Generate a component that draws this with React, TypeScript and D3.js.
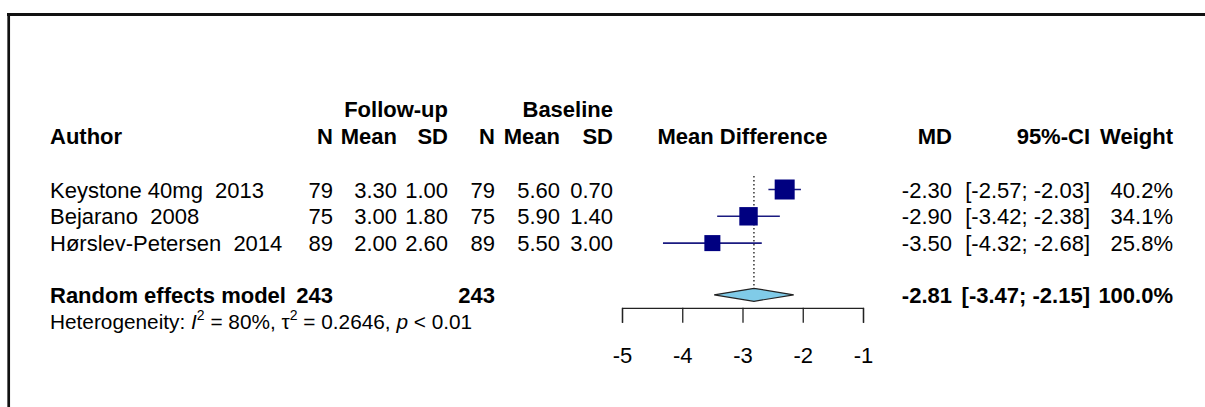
import * as d3 from 'd3';

// study rows
const authors = ['Keystone 40mg  2013', 'Bejarano  2008', 'Hørslev-Petersen  2014'];
const fuN = [79, 75, 89];
const fuMean = [3.3, 3.0, 2.0];
const fuSD = [1.0, 1.8, 2.6];
const blN = [79, 75, 89];
const blMean = [5.6, 5.9, 5.5];
const blSD = [0.7, 1.4, 3.0];
const md = [-2.3, -2.9, -3.5];
const ciLow = [-2.57, -3.42, -4.32];
const ciHigh = [-2.03, -2.38, -2.68];
const weights = [40.2, 34.1, 25.8];

// pooled random effects model
const pooled = { md: -2.81, lo: -3.47, hi: -2.15, nFu: 243, nBl: 243 };
const het = { i2: '80%', tau2: '0.2646', p: '< 0.01' };
const axisTicks = [-5, -4, -3, -2, -1];

const W = 1205;
const H = 407;
const FONT = '"Liberation Sans", Arial, sans-serif';

// plain hyphen for negatives, like R output
const loc = d3.formatLocale({ decimal: '.', thousands: ',', grouping: [3], currency: ['', ''], minus: '-' });
// keep the double spaces in study labels
const keepSpaces = (s: string) => s.replace(/  /g, ' \u00a0');

export default function App() {
  const x = d3.scaleLinear().domain([-5, -1]).range([622, 863]);
  // row index -> vertical centre
  const row = d3.scaleLinear().domain([0, 1]).range([189.5, 216.3]);
  const size = d3.scaleSqrt().domain([0, d3.max(weights) as number]).range([0, 20]);
  const base = (i: number) => row(i) + 8;
  const f2 = loc.format('.2f');
  const f1 = (v: number) => loc.format('.1f')(v) + '%';
  const sumRow = 3.93;

  const axisRef = (g: SVGGElement | null) => {
    if (!g) return;
    const sel = d3.select(g);
    sel.selectAll('*').remove();
    sel.call(
      d3.axisBottom(x).tickValues(axisTicks).tickSize(15).tickPadding(25).tickFormat(loc.format('d'))
    );
    sel.selectAll('path, line').attr('stroke', '#222').attr('stroke-width', 1.3);
    sel.selectAll('text').attr('font-size', 22).attr('font-family', FONT).attr('fill', '#000');
  };

  const bold = { fontWeight: 700 } as const;
  const cols = { fuN: 333, fuMean: 397, fuSD: 448, blN: 495, blMean: 560, blSD: 613, md: 952, ci: 1090, w: 1173 };

  return (
    <svg width={W} height={H} style={{ position: 'absolute', left: 0, top: 0, background: '#fff' }}
      fontFamily={FONT} fontSize={22}>
      <rect width={W} height={H} fill="#fff" />
      <line x1={7} x2={W} y1={14.5} y2={14.5} stroke="#111" strokeWidth={3} />
      <line x1={8.7} x2={8.7} y1={13} y2={H} stroke="#111" strokeWidth={2.7} />

      {/* headers */}
      <g style={bold}>
        <text x={cols.fuSD} y={base(-3)} textAnchor="end">Follow-up</text>
        <text x={cols.blSD} y={base(-3)} textAnchor="end">Baseline</text>
        <text x={50} y={base(-2)}>Author</text>
        <text x={cols.fuN} y={base(-2)} textAnchor="end">N</text>
        <text x={cols.fuMean} y={base(-2)} textAnchor="end">Mean</text>
        <text x={cols.fuSD} y={base(-2)} textAnchor="end">SD</text>
        <text x={cols.blN} y={base(-2)} textAnchor="end">N</text>
        <text x={cols.blMean} y={base(-2)} textAnchor="end">Mean</text>
        <text x={cols.blSD} y={base(-2)} textAnchor="end">SD</text>
        <text x={x(-3)} y={base(-2)} textAnchor="middle">Mean Difference</text>
        <text x={cols.md} y={base(-2)} textAnchor="end">MD</text>
        <text x={cols.ci} y={base(-2)} textAnchor="end">95%-CI</text>
        <text x={cols.w} y={base(-2)} textAnchor="end">Weight</text>
      </g>

      {/* study rows */}
      {authors.map((a, i) => (
        <g key={a}>
          <text x={50} y={base(i)}>{keepSpaces(a)}</text>
          <text x={cols.fuN} y={base(i)} textAnchor="end">{fuN[i]}</text>
          <text x={cols.fuMean} y={base(i)} textAnchor="end">{f2(fuMean[i])}</text>
          <text x={cols.fuSD} y={base(i)} textAnchor="end">{f2(fuSD[i])}</text>
          <text x={cols.blN} y={base(i)} textAnchor="end">{blN[i]}</text>
          <text x={cols.blMean} y={base(i)} textAnchor="end">{f2(blMean[i])}</text>
          <text x={cols.blSD} y={base(i)} textAnchor="end">{f2(blSD[i])}</text>
          <text x={cols.md} y={base(i)} textAnchor="end">{f2(md[i])}</text>
          <text x={cols.ci} y={base(i)} textAnchor="end">{`[${f2(ciLow[i])}; ${f2(ciHigh[i])}]`}</text>
          <text x={cols.w} y={base(i)} textAnchor="end">{f1(weights[i])}</text>
        </g>
      ))}

      {/* reference line at pooled estimate */}
      <line x1={x(pooled.md)} x2={x(pooled.md)} y1={row(-0.5)} y2={row(sumRow)}
        stroke="#000" strokeWidth={1.2} strokeDasharray="1.5,2.5" />

      {/* CIs and squares */}
      {authors.map((a, i) => {
        const s = size(weights[i]);
        return (
          <g key={'m' + a}>
            <line x1={x(ciLow[i])} x2={x(ciHigh[i])} y1={row(i)} y2={row(i)} stroke="#1a1a80" strokeWidth={1.6} />
            <rect x={x(md[i]) - s / 2} y={row(i) - s / 2} width={s} height={s} fill="#000080" />
          </g>
        );
      })}

      {/* pooled diamond */}
      <polygon
        points={[
          [x(pooled.lo), row(sumRow)],
          [x(pooled.md), row(sumRow) - 6.5],
          [x(pooled.hi), row(sumRow)],
          [x(pooled.md), row(sumRow) + 6.5],
        ].map((p) => p.join(',')).join(' ')}
        fill="#80cbe8" stroke="#222" strokeWidth={1.2}
      />

      <g style={bold}>
        <text x={50} y={base(sumRow)}>Random effects model</text>
        <text x={cols.fuN} y={base(sumRow)} textAnchor="end">{pooled.nFu}</text>
        <text x={cols.blN} y={base(sumRow)} textAnchor="end">{pooled.nBl}</text>
        <text x={cols.md} y={base(sumRow)} textAnchor="end">{f2(pooled.md)}</text>
        <text x={cols.ci} y={base(sumRow)} textAnchor="end">{`[${f2(pooled.lo)}; ${f2(pooled.hi)}]`}</text>
        <text x={cols.w} y={base(sumRow)} textAnchor="end">100.0%</text>
      </g>

      <text x={50} y={base(sumRow) + 26.5} fontSize={20.8}>
        Heterogeneity: <tspan fontStyle="italic">I</tspan>
        <tspan dy={-9} fontSize={14}>2</tspan>
        <tspan dy={9}>{` = ${het.i2}, τ`}</tspan>
        <tspan dy={-9} fontSize={14}>2</tspan>
        <tspan dy={9}>{` = ${het.tau2}, `}</tspan>
        <tspan fontStyle="italic">p</tspan>
        <tspan>{` ${het.p}`}</tspan>
      </text>

      <g ref={axisRef} transform={`translate(0,${row(sumRow) + 13})`} />
    </svg>
  );
}
